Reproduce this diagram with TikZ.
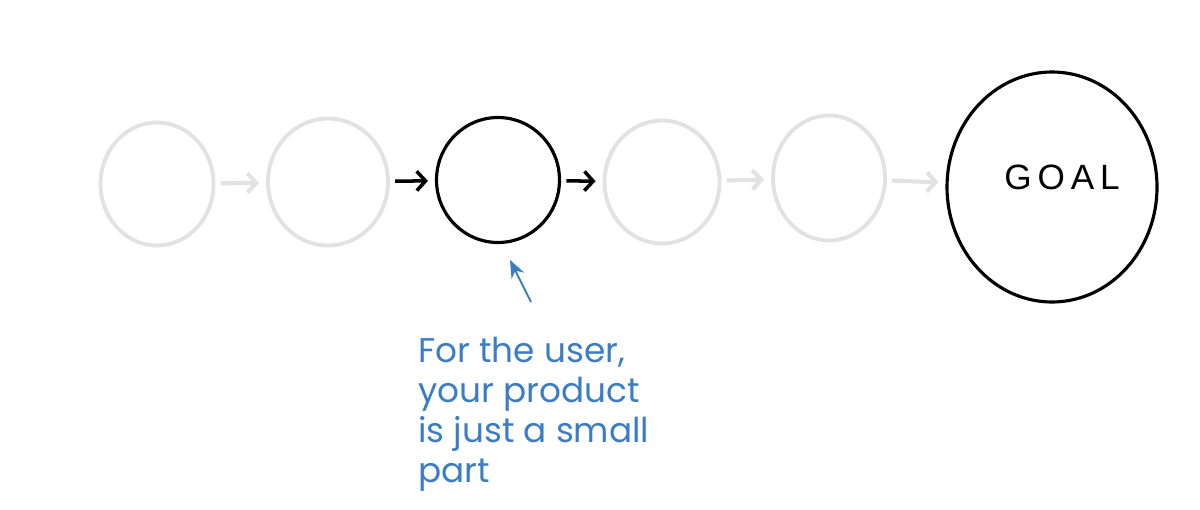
\documentclass[tikz,border=0pt]{standalone}
\usepackage{fontspec}
\newfontfamily\notefont{Poppins}
\newfontfamily\goalfont{Liberation Sans}
\usetikzlibrary{arrows.meta,shapes.geometric}
\definecolor{faded}{RGB}{226,226,226}
\definecolor{noteblue}{RGB}{58,125,196}
\tikzset{
  stage/.style={draw=faded,shape=ellipse,line width=2.2pt,inner sep=0pt},
  current/.style={stage,draw=black,line width=1.8pt},
  link/.style={draw=faded,line width=2.4pt,-{Straight Barb[length=5pt,width=11pt]},shorten <=3pt,shorten >=4pt},
  activelink/.style={link,draw=black,line width=2pt},
  note/.style={draw=noteblue,line width=1.1pt,-{Stealth[length=10pt,width=8pt]}}
}
\begin{document}
\begin{tikzpicture}
    \useasboundingbox (0,0) rectangle (24,10.18);
    \node[stage, minimum width=2.26cm, minimum height=2.46cm] (c1) at (3.14,6.50) {};
    \node[stage, minimum width=2.40cm, minimum height=2.54cm] (c2) at (6.56,6.54) {};
    \node[current, minimum width=2.46cm, minimum height=2.50cm] (c3) at (9.96,6.58) {};
    \node[stage, minimum width=2.30cm, minimum height=2.46cm] (c4) at (13.24,6.54) {};
    \node[stage, minimum width=2.24cm, minimum height=2.50cm] (c5) at (16.58,6.62) {};
    \node[current, minimum width=4.2cm, minimum height=4.6cm] (goal) at (21.04,6.44) {};
    \node[font=\goalfont\fontsize{20pt}{20pt}\selectfont] (goaltext) at (21.24,6.64) {G\,O\,A\,L};
    \draw[link] (c1) -- (c2);
    \draw[activelink] (c2) -- (c3);
    \draw[activelink] (c3) -- (c4);
    \draw[link] (c4) -- (c5);
    \draw[link] (c5) -- (goal);
    % the callout under the middle step
    \coordinate (tail) at (10.62,4.14);
    \coordinate (tip) at (10.20,4.98);
    \draw[note] (tail) -- (tip);
    \node[anchor=north west, align=left, text=noteblue, inner sep=0pt,
          font=\notefont\fontsize{19.5pt}{22.8pt}\selectfont] (label) at (8.36,3.44)
      {For the user,\\ your product\\ is just a small\\ part};
\end{tikzpicture}
\end{document}
